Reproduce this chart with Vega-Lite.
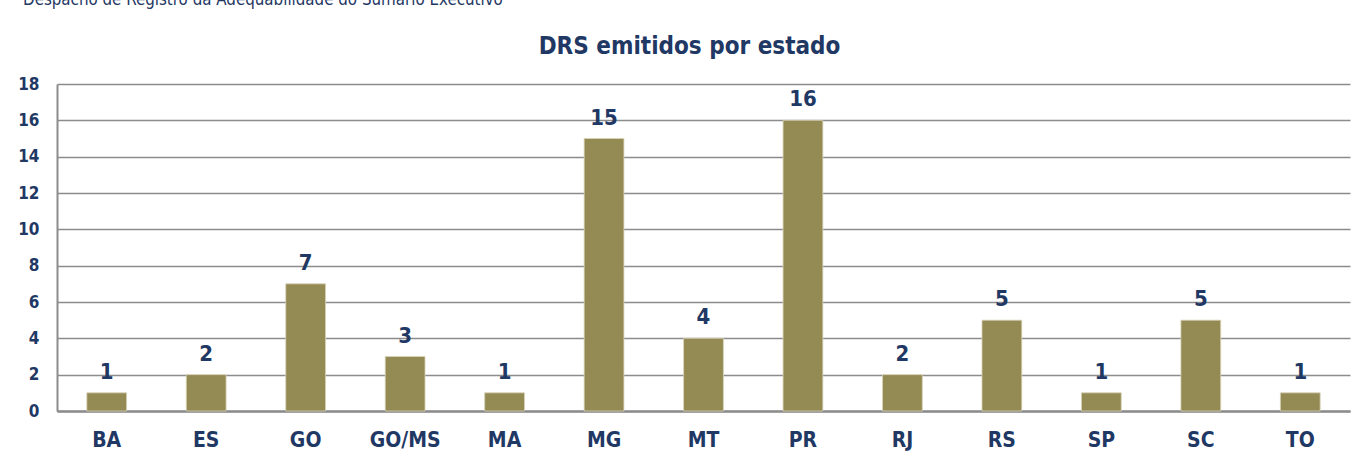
{
  "$schema": "https://vega.github.io/schema/vega-lite/v6.json",
  "width": 1293,
  "height": 327,
  "autosize": {"type": "none"},
  "padding": {"left": 57, "top": 84, "right": 8, "bottom": 47},
  "background": "white",
  "title": {
    "text": "Despacho de Registro da Adequabilidade do Sumário Executivo",
    "anchor": "start",
    "frame": "group",
    "orient": "top",
    "offset": 0,
    "dx": -34,
    "dy": -12,
    "baseline": "alphabetic",
    "font": "DejaVu Sans Condensed, Liberation Sans, sans-serif",
    "fontSize": 16.8,
    "fontWeight": "normal",
    "color": "#1F3864"
  },
  "data": {
    "values": [
      {"estado": "BA", "drs": 1},
      {"estado": "ES", "drs": 2},
      {"estado": "GO", "drs": 7},
      {"estado": "GO/MS", "drs": 3},
      {"estado": "MA", "drs": 1},
      {"estado": "MG", "drs": 15},
      {"estado": "MT", "drs": 4},
      {"estado": "PR", "drs": 16},
      {"estado": "RJ", "drs": 2},
      {"estado": "RS", "drs": 5},
      {"estado": "SP", "drs": 1},
      {"estado": "SC", "drs": 5},
      {"estado": "TO", "drs": 1}
    ]
  },
  "encoding": {
    "y": {
      "field": "drs", "type": "quantitative",
      "scale": {"domain": [0, 18], "nice": false},
      "axis": {
        "title": null, "values": [0, 2, 4, 6, 8, 10, 12, 14, 16, 18],
        "domain": true, "domainColor": "#8C8C8C", "domainWidth": 2,
        "ticks": false, "tickSize": 0,
        "grid": true, "gridColor": "#8C8C8C", "gridWidth": 1.5,
        "labelFont": "DejaVu Sans Condensed, Liberation Sans, sans-serif", "labelFontSize": 17, "labelFontWeight": "bold",
        "labelColor": "#1F3864", "labelPadding": 18
      }
    }
  },
  "layer": [
    {
      "mark": {"type": "bar", "color": "#948A54", "stroke": "#D8D3B8", "strokeWidth": 0.8},
      "encoding": {
        "x": {
          "field": "estado", "type": "nominal", "sort": null,
          "scale": {"paddingInner": 0.6, "paddingOuter": 0.3},
          "axis": {
            "orient": "bottom", "title": null, "labelAngle": 0,
            "domain": true, "domainColor": "#8C8C8C", "domainWidth": 2.5,
            "ticks": false, "tickSize": 0, "grid": false,
            "labelFont": "DejaVu Sans Condensed, Liberation Sans, sans-serif", "labelFontSize": 21, "labelFontWeight": "bold",
            "labelColor": "#1F3864", "labelBaseline": "alphabetic", "labelPadding": 35
          }
        }
      }
    },
    {
      "mark": {"type": "text", "baseline": "alphabetic", "dy": -14, "font": "DejaVu Sans Condensed, Liberation Sans, sans-serif", "fontSize": 22, "fontWeight": "bold", "color": "#1F3864"},
      "encoding": {
        "x": {
          "field": "estado", "type": "nominal", "sort": null,
          "axis": {
            "orient": "top", "labels": false, "ticks": false, "domain": false, "grid": false,
            "title": "DRS emitidos por estado",
            "titleFont": "DejaVu Sans Condensed, Liberation Sans, sans-serif", "titleFontSize": 24, "titleFontWeight": "bold",
            "titleColor": "#1F3864", "titleAlign": "center", "titleAnchor": "middle",
            "titleBaseline": "alphabetic", "titleX": 632, "titleY": -31
          }
        },
        "text": {"field": "drs", "type": "quantitative"}
      }
    }
  ],
  "config": {"view": {"stroke": null}}
}
